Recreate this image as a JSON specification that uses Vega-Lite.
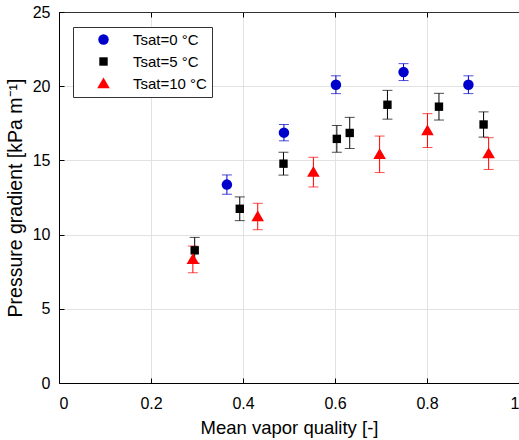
{
  "$schema": "https://vega.github.io/schema/vega-lite/v6.json",
  "autosize": "none",
  "width": 460,
  "height": 371,
  "padding": {"left": 59, "top": 12, "right": 0, "bottom": 57},
  "background": "white",
  "config": {
    "font": "Liberation Sans",
    "view": {"stroke": "#333333", "strokeWidth": 1},
    "legend": {"symbolOpacity": 1, "symbolSize": 110, "symbolStrokeWidth": 0},
    "axis": {
      "labelFont": "Liberation Sans",
      "titleFont": "Liberation Sans",
      "labelFontSize": 16,
      "titleFontSize": 18.5,
      "titleFontWeight": "normal",
      "labelColor": "black",
      "titleColor": "black",
      "domainColor": "black",
      "tickColor": "black",
      "gridColor": "#e2e2e2",
      "gridWidth": 1
    }
  },
  "data": {
    "values": [
      {"series": "Tsat=0 °C", "x": 0.365, "y": 13.37, "err": 0.65},
      {"series": "Tsat=0 °C", "x": 0.489, "y": 16.87, "err": 0.55},
      {"series": "Tsat=0 °C", "x": 0.602, "y": 20.1, "err": 0.6},
      {"series": "Tsat=0 °C", "x": 0.749, "y": 20.95, "err": 0.57},
      {"series": "Tsat=0 °C", "x": 0.89, "y": 20.1, "err": 0.6},
      {"series": "Tsat=5 °C", "x": 0.295, "y": 8.94, "err": 0.87},
      {"series": "Tsat=5 °C", "x": 0.393, "y": 11.74, "err": 0.8},
      {"series": "Tsat=5 °C", "x": 0.488, "y": 14.78, "err": 0.77},
      {"series": "Tsat=5 °C", "x": 0.604, "y": 16.45, "err": 0.9},
      {"series": "Tsat=5 °C", "x": 0.632, "y": 16.85, "err": 1.05},
      {"series": "Tsat=5 °C", "x": 0.714, "y": 18.75, "err": 0.97},
      {"series": "Tsat=5 °C", "x": 0.826, "y": 18.62, "err": 0.9},
      {"series": "Tsat=5 °C", "x": 0.923, "y": 17.42, "err": 0.85},
      {"series": "Tsat=10 °C", "x": 0.291, "y": 8.33, "err": 0.9},
      {"series": "Tsat=10 °C", "x": 0.432, "y": 11.22, "err": 0.89},
      {"series": "Tsat=10 °C", "x": 0.553, "y": 14.21, "err": 1.0},
      {"series": "Tsat=10 °C", "x": 0.697, "y": 15.41, "err": 1.23},
      {"series": "Tsat=10 °C", "x": 0.801, "y": 17.01, "err": 1.14},
      {"series": "Tsat=10 °C", "x": 0.934, "y": 15.46, "err": 1.07}
    ]
  },
  "layer": [
    {
      "mark": {"type": "errorbar", "ticks": {"size": 10, "thickness": 1}, "rule": {"strokeWidth": 1}},
      "encoding": {
        "x": {
          "field": "x", "type": "quantitative",
          "scale": {"domain": [0, 1], "nice": false},
          "axis": {"values": [0, 0.2, 0.4, 0.6, 0.8, 1], "format": "~g", "tickSize": -5, "labelPadding": 17, "title": "Mean vapor quality [-]", "titlePadding": 7, "grid": true}
        },
        "y": {
          "field": "y", "type": "quantitative",
          "scale": {"domain": [0, 25], "nice": false},
          "axis": {"values": [0, 5, 10, 15, 20, 25], "tickSize": -5, "labelPadding": 14, "title": "Pressure gradient [kPa m⁻¹]", "titleFontSize": 19.5, "titlePadding": 7, "grid": true}
        },
        "yError": {"field": "err"},
        "color": {
          "field": "series", "type": "nominal",
          "scale": {"domain": ["Tsat=0 °C", "Tsat=5 °C", "Tsat=10 °C"], "range": ["#0000CC", "#000000", "#FF0000"]}
        }
      }
    },
    {
      "mark": {"type": "point", "filled": true, "opacity": 1, "size": 110},
      "encoding": {
        "x": {"field": "x", "type": "quantitative", "axis": null},
        "y": {"field": "y", "type": "quantitative"},
        "color": {
          "field": "series", "type": "nominal",
          "scale": {"domain": ["Tsat=0 °C", "Tsat=5 °C", "Tsat=10 °C"], "range": ["#0000CC", "#000000", "#FF0000"]},
          "legend": {
            "title": null, "orient": "none", "legendX": 14, "legendY": 15,
            "strokeColor": "#333333", "fillColor": "white", "padding": 5,
            "symbolOffset": 18, "labelOffset": 22, "labelFontSize": 15, "labelFont": "Liberation Sans",
            "labelColor": "black", "rowPadding": 6, "symbolOpacity": 1, "symbolStrokeWidth": 0, "symbolSize": 110
          }
        },
        "shape": {
          "field": "series", "type": "nominal",
          "scale": {"domain": ["Tsat=0 °C", "Tsat=5 °C", "Tsat=10 °C"], "range": ["circle", "M-0.8,-0.8L0.8,-0.8L0.8,0.8L-0.8,0.8Z", "M0,-1.15L1.2,0.9L-1.2,0.9Z"]}
        }
      }
    },
    {
      "mark": {"type": "rule", "opacity": 0},
      "encoding": {
        "x": {"field": "x", "type": "quantitative", "axis": {"orient": "top", "values": [0, 0.2, 0.4, 0.6, 0.8, 1], "labels": false, "title": null, "tickSize": -5, "grid": false, "domainColor": "#333333"}}
      }
    }
  ],
  "resolve": {"axis": {"x": "independent"}}
}
